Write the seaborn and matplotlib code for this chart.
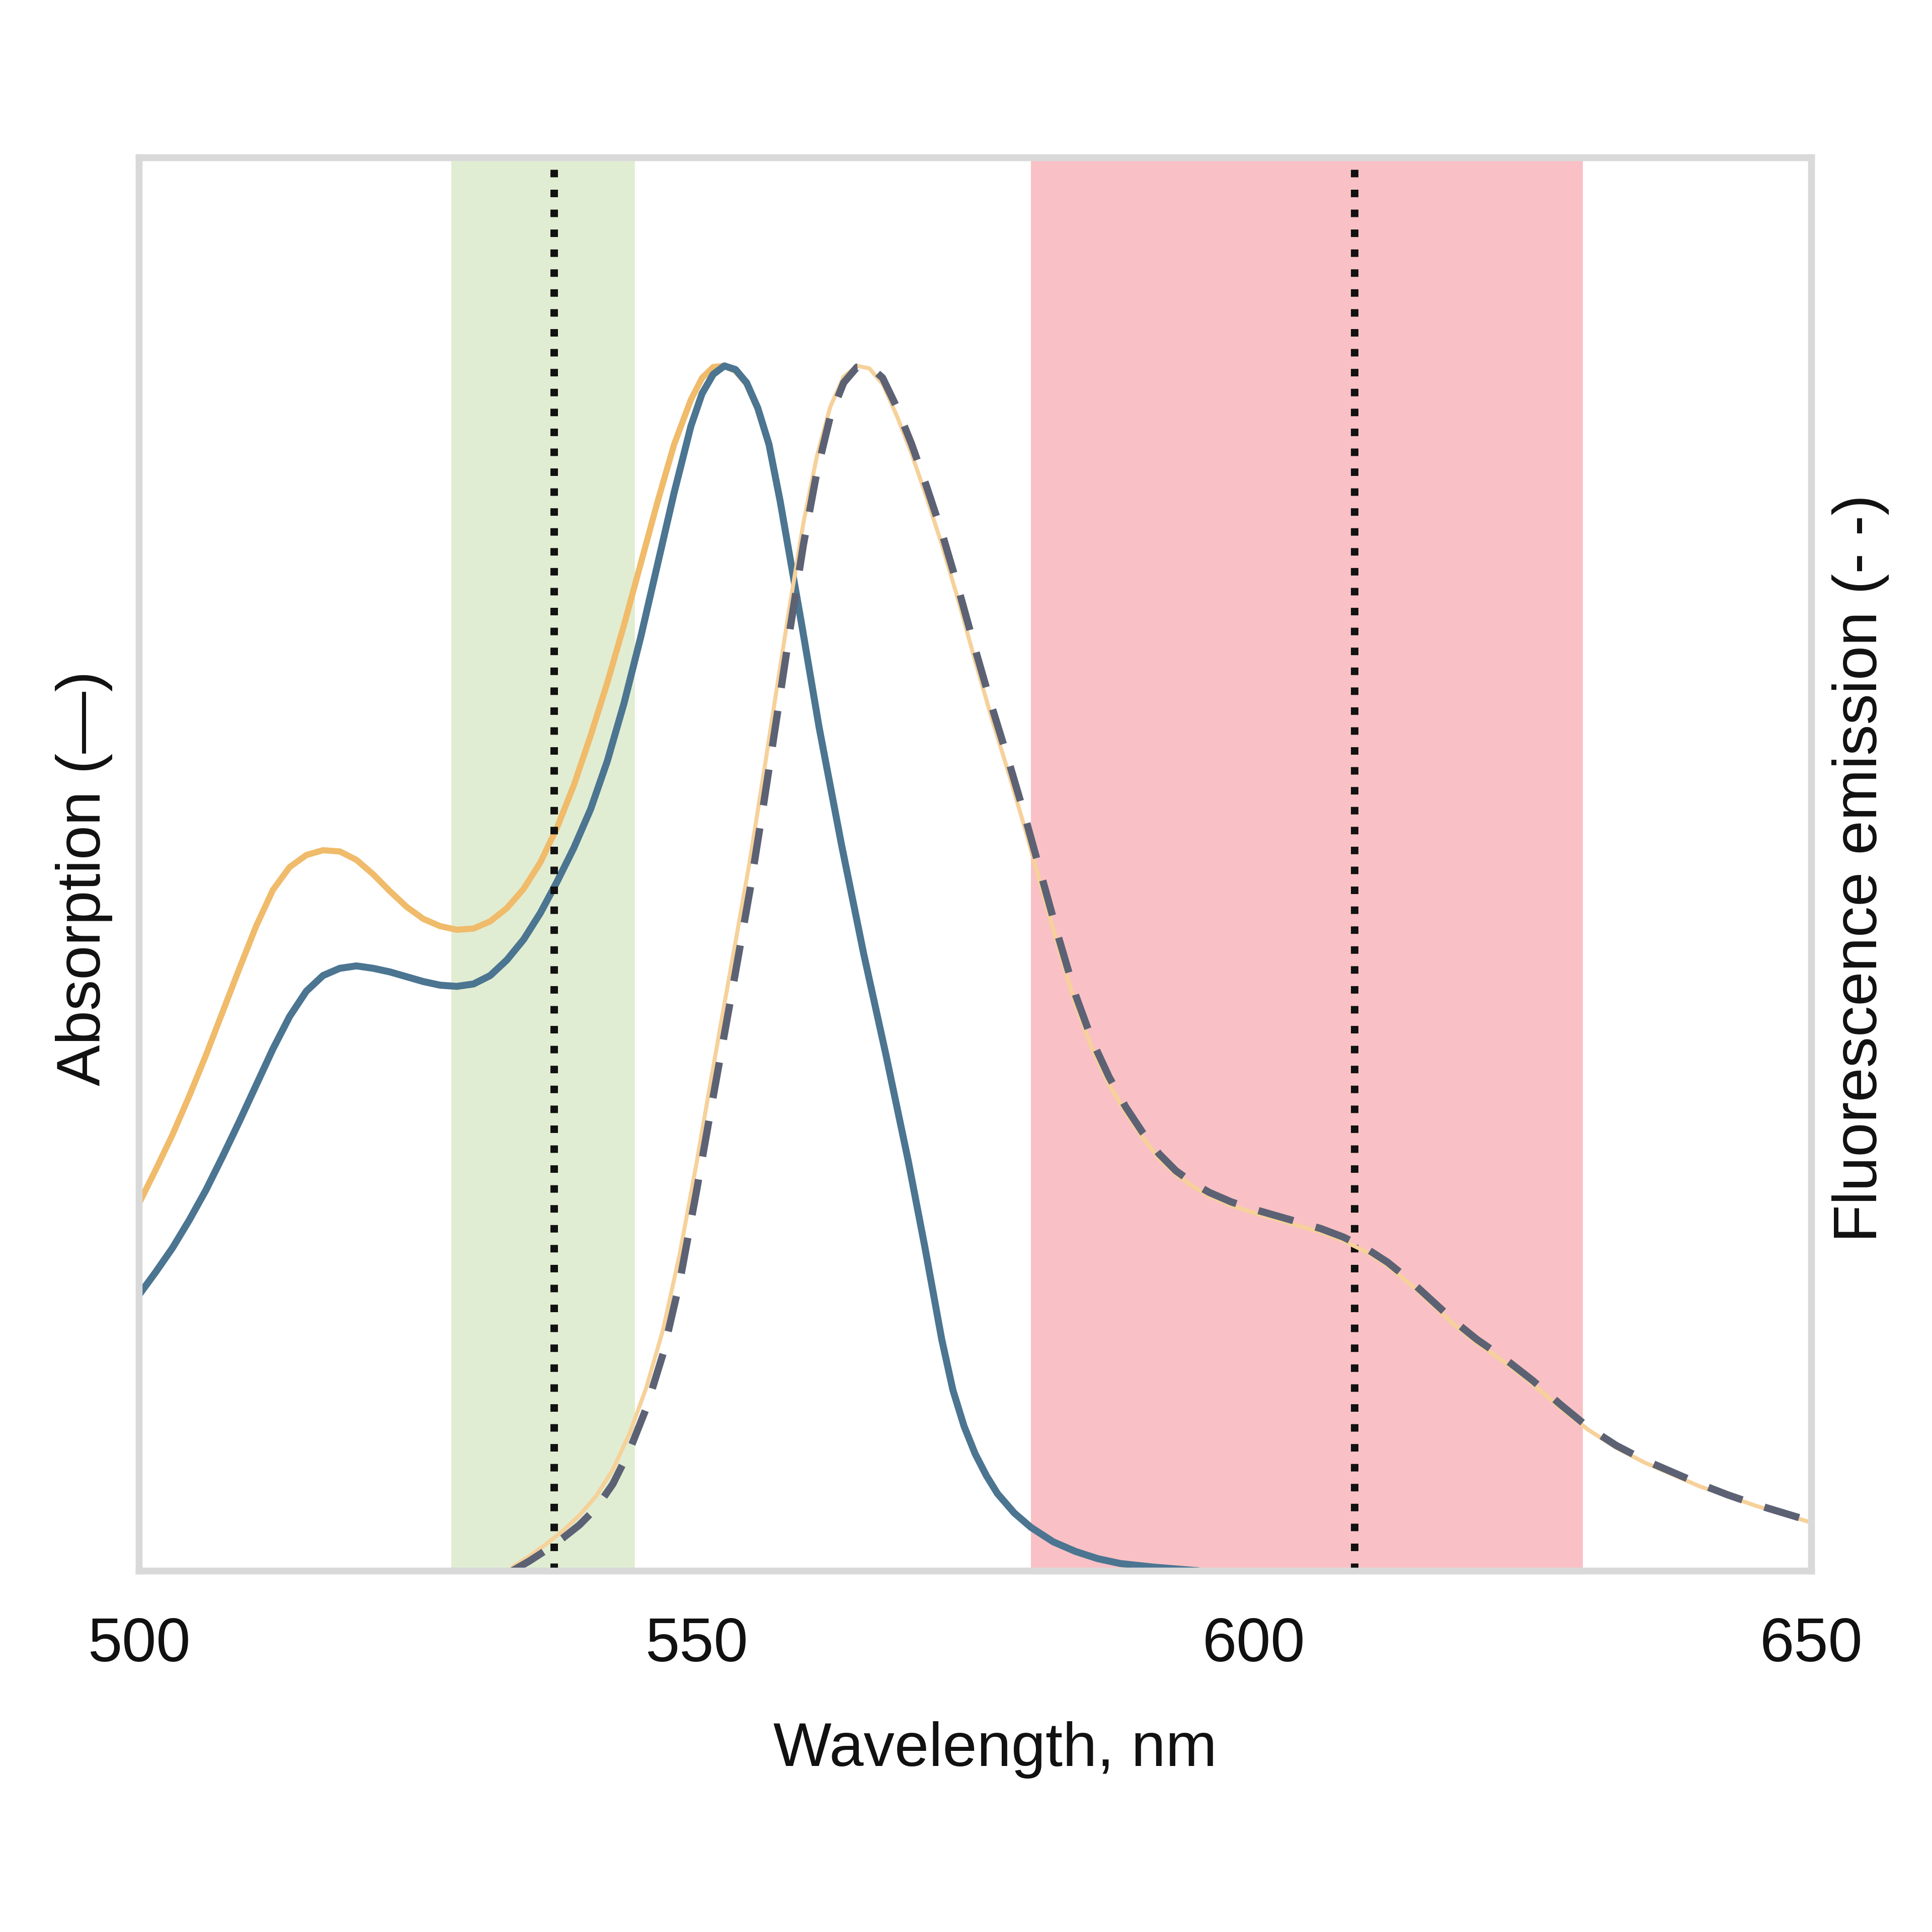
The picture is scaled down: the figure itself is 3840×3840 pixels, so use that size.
import matplotlib
matplotlib.use("Agg")
import matplotlib.pyplot as plt
import seaborn as sns

# Absorption spectra (normalised)
ABS_WL = [500, 501.5, 503, 504.5, 506, 507.5, 509, 510.5, 512, 513.5,
          515, 516.5, 518, 519.5, 521, 522.5, 524, 525.5, 527, 528.5,
          530, 531.5, 533, 534.5, 536, 537.5, 539, 540.5, 542, 543.5,
          545, 546.5, 548, 549.5, 550.5, 551.5, 552.5, 553.5, 554.5, 555.5,
          556.5, 557.5, 558.5, 559.5, 561, 563, 565, 567, 569, 570.5,
          572, 573, 574, 575, 576, 577, 578.5, 580, 582, 584,
          586, 588, 591, 595]
ABS_BLUE = [0.229, 0.248, 0.268, 0.291, 0.316, 0.344, 0.373, 0.403, 0.433, 0.460,
            0.481, 0.494, 0.500, 0.502, 0.500, 0.497, 0.493, 0.489, 0.486, 0.485,
            0.487, 0.494, 0.507, 0.524, 0.546, 0.572, 0.600, 0.632, 0.672, 0.720,
            0.775, 0.835, 0.895, 0.950, 0.977, 0.993, 1.000, 0.997, 0.986, 0.965,
            0.935, 0.888, 0.835, 0.782, 0.700, 0.603, 0.512, 0.428, 0.340, 0.268,
            0.192, 0.150, 0.120, 0.097, 0.079, 0.064, 0.048, 0.036, 0.024, 0.016,
            0.010, 0.006, 0.003, 0.000]
ABS_ORANGE = [0.305, 0.333, 0.362, 0.394, 0.428, 0.464, 0.500, 0.535, 0.565, 0.584,
              0.594, 0.598, 0.597, 0.590, 0.578, 0.564, 0.551, 0.541, 0.535, 0.532,
              0.533, 0.539, 0.550, 0.566, 0.588, 0.617, 0.652, 0.693, 0.737, 0.785,
              0.836, 0.887, 0.935, 0.972, 0.990, 0.999, 1.000, 0.996, 0.985, 0.964,
              0.934, 0.887, 0.834, 0.781, 0.700, 0.603, 0.512, 0.428, 0.340, 0.268,
              0.192, 0.150, 0.120, 0.097, 0.079, 0.064, 0.048, 0.036, 0.024, 0.016,
              0.010, 0.006, 0.003, 0.000]

# Fluorescence emission spectra (normalised)
EM_WL = [533.5, 535, 536.5, 538, 539.5, 541, 542.5, 544, 545.5, 547,
         548.5, 550, 551.2, 552.4, 553.6, 554.8, 556, 557.2, 558.4, 559.6,
         560.8, 562, 563.2, 564.4, 565.5, 566.7, 568, 569.3, 570.6, 572,
         573.5, 575, 576.5, 578, 579.5, 581, 582.5, 584, 585.5, 587,
         588.5, 590, 591.5, 593, 594.5, 596, 598, 600, 603, 606,
         608, 610, 612, 614, 616, 618, 620, 622.5, 625, 627.5,
         630, 632.5, 635, 637.5, 640, 642.5, 645, 647.5, 650]
EM_DARK = [0.000, 0.008, 0.017, 0.027, 0.038, 0.052, 0.072, 0.100, 0.135, 0.180,
           0.240, 0.315, 0.378, 0.440, 0.502, 0.565, 0.635, 0.708, 0.782, 0.852,
           0.912, 0.958, 0.986, 0.999, 1.000, 0.990, 0.965, 0.935, 0.901, 0.862,
           0.815, 0.765, 0.717, 0.672, 0.625, 0.575, 0.525, 0.478, 0.440, 0.410,
           0.385, 0.364, 0.346, 0.332, 0.322, 0.314, 0.306, 0.300, 0.292, 0.284,
           0.277, 0.268, 0.256, 0.241, 0.224, 0.207, 0.192, 0.176, 0.158, 0.138,
           0.119, 0.104, 0.092, 0.082, 0.072, 0.063, 0.055, 0.048, 0.041]
EM_ORANGE = [0.003, 0.012, 0.022, 0.033, 0.046, 0.062, 0.084, 0.114, 0.152, 0.200,
             0.263, 0.338, 0.402, 0.465, 0.527, 0.590, 0.660, 0.732, 0.803, 0.870,
             0.925, 0.966, 0.991, 1.000, 0.998, 0.985, 0.958, 0.927, 0.892, 0.852,
             0.805, 0.755, 0.707, 0.662, 0.615, 0.565, 0.516, 0.470, 0.433, 0.404,
             0.380, 0.360, 0.342, 0.329, 0.319, 0.311, 0.303, 0.297, 0.289, 0.281,
             0.274, 0.265, 0.253, 0.238, 0.221, 0.204, 0.189, 0.173, 0.155, 0.135,
             0.117, 0.102, 0.090, 0.080, 0.070, 0.062, 0.054, 0.047, 0.040]

# Filter bands and laser lines (nm)
EXC_BAND = (528, 544.5)
EM_BAND = (580, 629.5)
FILTER_LINES = [537.2, 609]
X_TICKS = [500, 550, 600, 650]

sns.set_theme(style="white")
plt.rcParams["font.family"] = ["Liberation Sans", "DejaVu Sans"]

fig = plt.figure(figsize=(10, 10), dpi=384)
ax = fig.add_axes([0.072, 0.187, 0.8655, 0.7315])

# Shaded filter windows
ax.axvspan(*EXC_BAND, color="#e1edd2", lw=0, zorder=0)
ax.axvspan(*EM_BAND, color="#f9c1c5", lw=0, zorder=0)

# Absorption curves
sns.lineplot(x=ABS_WL, y=ABS_ORANGE, ax=ax, color="#f0bb6a", lw=2.3)
sns.lineplot(x=ABS_WL, y=ABS_BLUE, ax=ax, color="#4b7591", lw=2.6)

for wl in FILTER_LINES:
    ax.axvline(wl, color="#111111", ls=":", lw=2.8, zorder=3)

ax.set_xlim(500, 650)
ax.set_ylim(0, 1.173)
ax.set_xticks(X_TICKS)
ax.set_yticks([])
ax.tick_params(axis="x", length=0, pad=17, labelsize=23, colors="#111111")

# Emission on a twin axis (same scale)
ax2 = ax.twinx()
sns.lineplot(x=EM_WL, y=EM_ORANGE, ax=ax2, color="#f6d19a", lw=1.5)
sns.lineplot(x=EM_WL, y=EM_DARK, ax=ax2, color="#5c6274", lw=2.7,
             linestyle=(0, (5, 3.2)))
ax2.set_ylim(0, 1.173)
ax2.set_yticks([])

for a in (ax, ax2):
    for s in a.spines.values():
        s.set_color("#d9d9d9")
        s.set_linewidth(2.5)

ax.set_xlabel("Wavelength, nm", fontsize=23, color="#111111")
ax.xaxis.set_label_coords(0.512, -0.1266)
ax.xaxis.label.set_va("center")

ax.set_ylabel("Absorption (\u2014)", fontsize=23, color="#111111")
ax.yaxis.set_label_coords(-0.033, 0.49)
ax.yaxis.label.set_va("center")

ax2.set_ylabel("Fluorescence emission (- -)", fontsize=23, color="#111111")
ax2.yaxis.set_label_coords(1.0295, 0.497)
ax2.yaxis.label.set_va("center")

fig.savefig("out.png", dpi=384)
